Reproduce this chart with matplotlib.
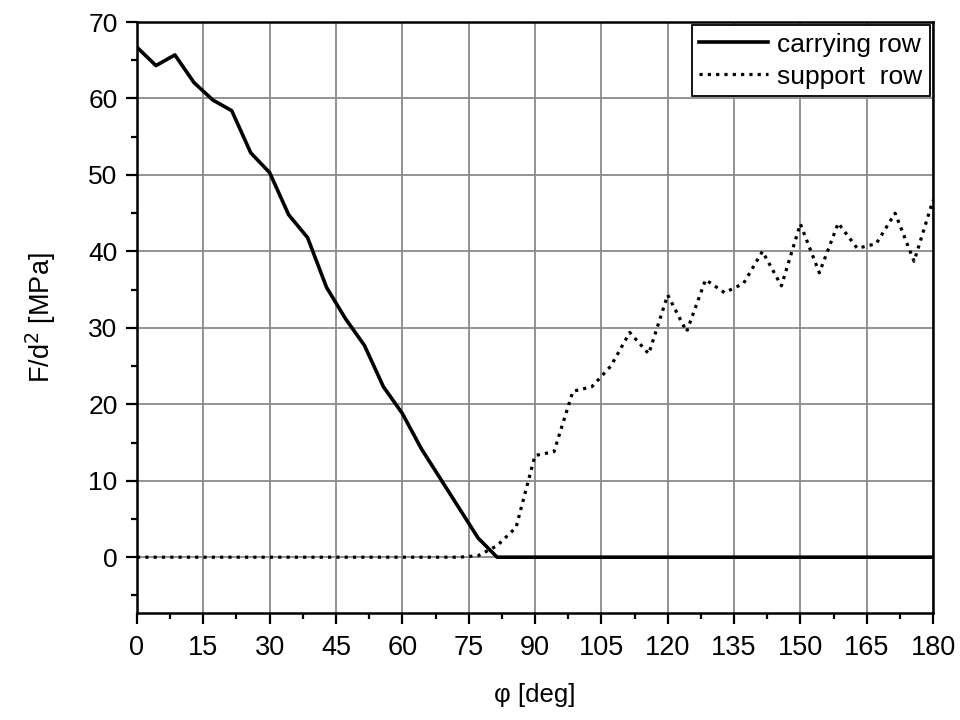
#!/usr/bin/env python3
"""
Force per squared diameter vs. angle for carrying and support rows.
"""
import numpy as np
import matplotlib.pyplot as plt
import matplotlib as mpl
from matplotlib.ticker import MultipleLocator

mpl.rcParams['font.family'] = ['Liberation Sans', 'DejaVu Sans']

# angle grid: 43 points from 0 to 180 deg
phi = np.linspace(0, 180, 43)

carrying = [66.7, 64.3, 65.7, 62.1, 59.8, 58.4, 52.9, 50.3, 44.8, 41.8,
            35.3, 31.2, 27.7, 22.3, 18.8, 14.2, 10.3, 6.4, 2.5, 0.0,
            0.0, 0.0, 0.0, 0.0, 0.0, 0.0, 0.0, 0.0, 0.0, 0.0,
            0.0, 0.0, 0.0, 0.0, 0.0, 0.0, 0.0, 0.0, 0.0, 0.0,
            0.0, 0.0, 0.0]

support = [0.0, 0.0, 0.0, 0.0, 0.0, 0.0, 0.0, 0.0, 0.0, 0.0,
           0.0, 0.0, 0.0, 0.0, 0.0, 0.0, 0.0, 0.0, 0.2, 1.5,
           3.9, 13.3, 13.8, 21.7, 22.3, 25.0, 29.4, 26.6, 34.3, 29.5,
           36.3, 34.6, 35.8, 40.0, 35.5, 43.6, 37.2, 43.7, 40.4, 41.0,
           45.0, 38.7, 46.7]


def main():
    fig = plt.figure(figsize=(9.6, 7.2), dpi=100)
    ax = fig.add_axes([0.1427, 0.1486, 0.8292, 0.8208])

    ax.plot(phi, support, color='black', lw=2.3, linestyle=(0, (1, 1.6)),
            label='support  row', zorder=3)
    ax.plot(phi, carrying, color='black', lw=2.6, label='carrying row',
            zorder=4)

    ax.set_xlim(0, 180)
    ax.set_ylim(-7.3, 70)
    ax.xaxis.set_major_locator(MultipleLocator(15))
    ax.xaxis.set_minor_locator(MultipleLocator(7.5))
    ax.yaxis.set_major_locator(MultipleLocator(10))
    ax.yaxis.set_minor_locator(MultipleLocator(5))

    ax.grid(True, which='major', color='#8a8a8a', lw=1.3)
    ax.set_axisbelow(True)
    for s in ax.spines.values():
        s.set_linewidth(1.8)

    ax.tick_params(which='major', direction='out', length=8, width=1.6,
                   colors='black')
    ax.tick_params(which='minor', direction='out', length=4.5, width=1.6)
    ax.tick_params(axis='y', labelsize=19, pad=6)
    ax.tick_params(axis='x', labelsize=19.5, pad=8)

    ax.set_xlabel('φ [deg]', fontsize=18.5, labelpad=16)
    ax.set_ylabel('F/d$^2$ [MPa]', fontsize=19.5, labelpad=22)

    handles, labels = ax.get_legend_handles_labels()
    leg = ax.legend(handles[::-1], labels[::-1], loc='upper right',
                    fontsize=19, frameon=True, fancybox=False,
                    borderaxespad=0.1, handlelength=2.6, handletextpad=0.35,
                    labelspacing=0.3, borderpad=0.3)
    leg.get_frame().set_edgecolor('black')
    leg.get_frame().set_linewidth(1.3)
    leg.get_frame().set_alpha(1)

    plt.savefig('out.png', dpi=100)


if __name__ == '__main__':
    main()
